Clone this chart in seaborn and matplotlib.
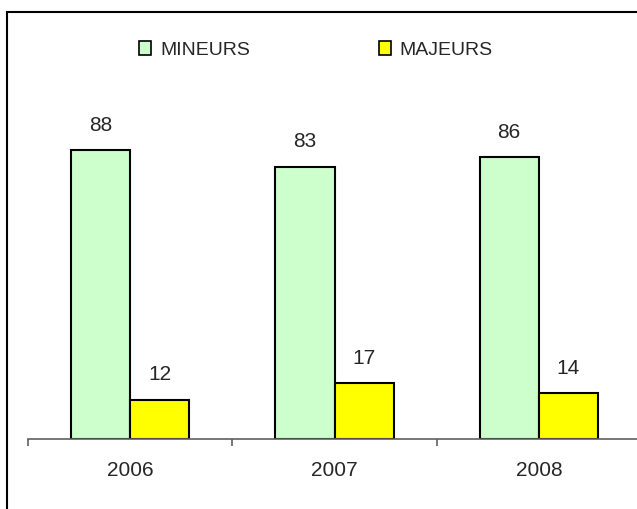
import seaborn as sns
import matplotlib.pyplot as plt
import pandas as pd
from matplotlib.patches import Rectangle

# données
annees = ['2006', '2007', '2008']
mineurs = [88, 83, 86]
majeurs = [12, 17, 14]

df = pd.DataFrame({
    'Annee': annees * 2,
    'Valeur': mineurs + majeurs,
    'Type': ['MINEURS'] * 3 + ['MAJEURS'] * 3,
})

sns.set_style('white')
plt.rcParams['font.family'] = ['Liberation Sans', 'DejaVu Sans']

fig = plt.figure(figsize=(6.37, 5.09), dpi=100)
ax = fig.add_axes([28 / 637, 70 / 509, 613 / 637, 328 / 509])

sns.barplot(data=df, x='Annee', y='Valeur', hue='Type',
            palette={'MINEURS': '#CCFFCC', 'MAJEURS': '#FFFF00'},
            width=0.58, edgecolor='black', linewidth=1.5, saturation=1,
            ax=ax)

for c in ax.containers:
    ax.bar_label(c, padding=11, fontsize=15)

ax.set_xlim(-0.5, 2.5)
ax.set_ylim(0, 100)
ax.set_xlabel('')
ax.set_ylabel('')
ax.set_yticks([])
for s in ['top', 'right', 'left']:
    ax.spines[s].set_visible(False)
ax.spines['bottom'].set_color('#606060')
ax.spines['bottom'].set_linewidth(1.2)

# ticks aux frontières, labels au centre
ax.set_xticks([-0.5, 0.5, 1.5, 2.5])
ax.set_xticklabels([])
ax.set_xticks([0, 1, 2], minor=True)
ax.set_xticklabels(annees, minor=True, fontsize=15)
ax.tick_params(axis='x', which='major', bottom=True, length=5, width=1.2, color='#606060', direction='out')
ax.tick_params(axis='x', which='minor', bottom=True, length=0, pad=16)

ax.legend(loc='center', bbox_to_anchor=(316 / 637, 1 - 50 / 509), bbox_transform=fig.transFigure,
          ncol=2, frameon=False, fontsize=14,
          handlelength=0.62, handleheight=0.67, handletextpad=0.46, columnspacing=6.6)
for h in ax.get_legend().legend_handles:
    h.set_linewidth(1.2)

fig.patches.append(Rectangle((7 / 637, -0.05), 1.1, 1.05 - 12 / 509, transform=fig.transFigure,
                             fill=False, edgecolor='black', linewidth=1.5, figure=fig))

plt.savefig('out.png', dpi=100)
